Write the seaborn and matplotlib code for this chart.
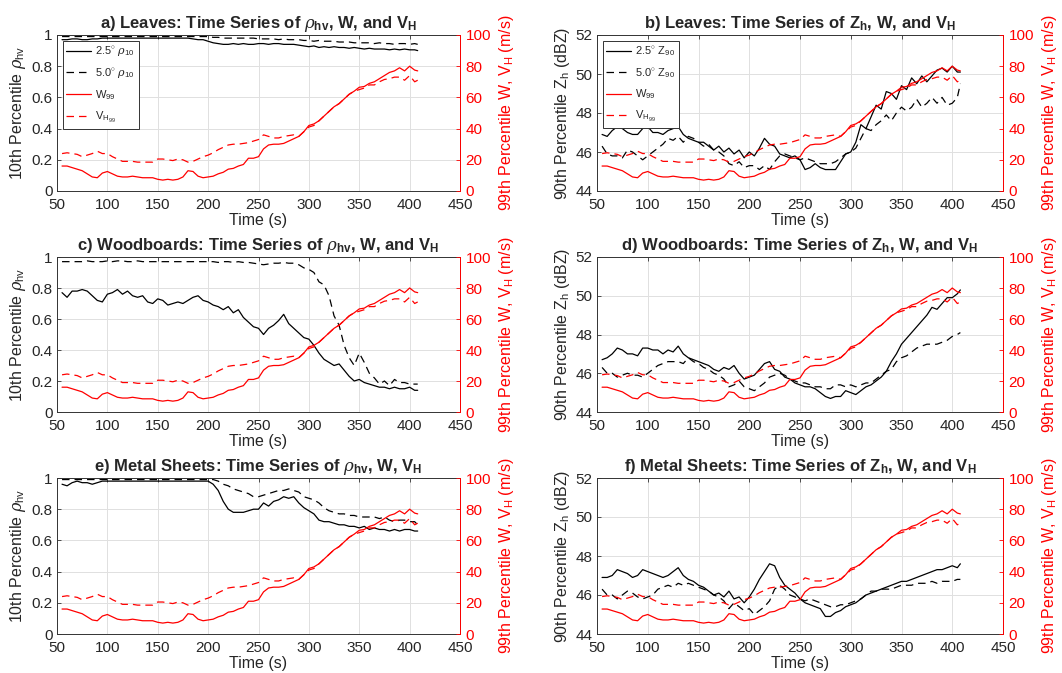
import numpy as np
import pandas as pd
import matplotlib
matplotlib.use("Agg")
import matplotlib.pyplot as plt
import seaborn as sns
from matplotlib.lines import Line2D

# ---------------- data ----------------
time_s = list(range(55, 406, 5)) + [408]

w99 = [16, 16, 15, 14, 13, 11, 9, 8.5, 11.5, 12.5, 11, 9.5, 9, 9, 9.5, 9, 8.5, 8.5, 8.5, 7.5,
       7, 7.5, 7, 7.5, 9, 13, 12.5, 9.5, 8.5, 9, 9.5, 11, 12, 14, 14.5, 16, 17, 21, 21, 22,
       27, 29.5, 30, 30, 30.5, 32, 33.5, 35, 38, 42, 43, 45, 48, 51, 54, 56, 59, 62, 64, 66.5,
       67, 69, 70, 72, 74, 76, 77, 79, 77, 80, 77.5, 77]
vh99 = [24, 24.5, 24, 23.5, 22, 23, 24, 25.5, 24, 24, 22, 20.5, 19, 19, 19, 18.5, 18.5, 18.5, 18.5, 20.5,
        20.5, 20, 19.5, 20.5, 20, 18.5, 19, 20.5, 22, 23, 24.5, 26.5, 28, 29.5, 30, 30, 30.5, 31, 32, 33,
        36, 35, 34, 34, 35, 35.5, 36, 35, 38, 41, 42, 45, 48, 51, 54, 56, 59, 62, 64, 65,
        66, 68, 68, 70, 71.5, 72, 73, 73, 71, 74, 70, 71]

leaves_rho_25 = [0.97, 0.97, 0.975, 0.975, 0.97, 0.97, 0.975, 0.975, 0.98, 0.98, 0.98, 0.98, 0.98, 0.98, 0.98, 0.98, 0.98, 0.98, 0.98, 0.98,
                 0.98, 0.98, 0.98, 0.98, 0.98, 0.98, 0.975, 0.97, 0.97, 0.96, 0.95, 0.945, 0.94, 0.94, 0.945, 0.94, 0.945, 0.94, 0.94, 0.945,
                 0.945, 0.94, 0.945, 0.945, 0.94, 0.94, 0.94, 0.935, 0.93, 0.925, 0.93, 0.92, 0.925, 0.92, 0.925, 0.92, 0.92, 0.915, 0.92, 0.915,
                 0.91, 0.915, 0.91, 0.91, 0.91, 0.905, 0.91, 0.905, 0.91, 0.905, 0.905, 0.90]
leaves_rho_50 = [0.99, 0.99, 0.99, 0.99, 0.99, 0.99, 0.99, 0.99, 0.99, 0.99, 0.99, 0.99, 0.99, 0.99, 0.99, 0.99, 0.99, 0.99, 0.99, 0.99,
                 0.99, 0.99, 0.99, 0.99, 0.99, 0.99, 0.99, 0.99, 0.99, 0.99, 0.985, 0.985, 0.98, 0.98, 0.98, 0.98, 0.98, 0.98, 0.98, 0.975,
                 0.975, 0.975, 0.975, 0.97, 0.975, 0.97, 0.97, 0.97, 0.965, 0.965, 0.96, 0.965, 0.96, 0.96, 0.96, 0.955, 0.955, 0.955, 0.95, 0.95,
                 0.95, 0.95, 0.945, 0.95, 0.945, 0.945, 0.94, 0.945, 0.945, 0.94, 0.945, 0.94]

wood_rho_25 = [0.77, 0.74, 0.78, 0.78, 0.79, 0.78, 0.75, 0.72, 0.71, 0.76, 0.77, 0.79, 0.76, 0.78, 0.75, 0.74, 0.75, 0.71, 0.70, 0.73,
               0.72, 0.69, 0.70, 0.71, 0.70, 0.72, 0.74, 0.75, 0.72, 0.71, 0.69, 0.68, 0.66, 0.68, 0.64, 0.66, 0.61, 0.58, 0.55, 0.54,
               0.50, 0.54, 0.56, 0.59, 0.63, 0.57, 0.54, 0.51, 0.48, 0.47, 0.43, 0.38, 0.34, 0.32, 0.30, 0.31, 0.27, 0.23, 0.20, 0.21,
               0.19, 0.18, 0.17, 0.16, 0.16, 0.15, 0.16, 0.15, 0.15, 0.16, 0.14, 0.14]
wood_rho_50 = [0.97, 0.97, 0.97, 0.97, 0.97, 0.975, 0.97, 0.97, 0.97, 0.975, 0.97, 0.975, 0.975, 0.97, 0.97, 0.975, 0.97, 0.97, 0.97, 0.97,
               0.97, 0.97, 0.97, 0.97, 0.97, 0.97, 0.97, 0.97, 0.97, 0.97, 0.97, 0.965, 0.97, 0.97, 0.965, 0.97, 0.965, 0.965, 0.96, 0.955,
               0.95, 0.955, 0.96, 0.96, 0.965, 0.96, 0.96, 0.95, 0.93, 0.92, 0.90, 0.84, 0.82, 0.75, 0.62, 0.56, 0.43, 0.35, 0.30, 0.38,
               0.32, 0.25, 0.22, 0.18, 0.20, 0.17, 0.21, 0.19, 0.19, 0.18, 0.18, 0.18]

metal_rho_25 = [0.96, 0.95, 0.97, 0.98, 0.97, 0.97, 0.96, 0.97, 0.98, 0.98, 0.98, 0.98, 0.98, 0.98, 0.98, 0.98, 0.98, 0.98, 0.98, 0.98,
                0.98, 0.98, 0.98, 0.98, 0.98, 0.98, 0.98, 0.98, 0.98, 0.98, 0.96, 0.92, 0.85, 0.80, 0.78, 0.78, 0.78, 0.79, 0.80, 0.80,
                0.84, 0.82, 0.85, 0.86, 0.88, 0.87, 0.88, 0.84, 0.81, 0.79, 0.77, 0.73, 0.72, 0.72, 0.71, 0.70, 0.70, 0.69, 0.69, 0.68,
                0.69, 0.67, 0.68, 0.67, 0.67, 0.66, 0.67, 0.66, 0.67, 0.67, 0.66, 0.66]
metal_rho_50 = [0.99, 0.99, 0.99, 0.99, 0.99, 0.99, 0.99, 0.99, 0.99, 0.99, 0.99, 0.99, 0.99, 0.99, 0.99, 0.99, 0.99, 0.99, 0.99, 0.99,
                0.99, 0.99, 0.99, 0.99, 0.99, 0.99, 0.99, 0.99, 0.99, 0.99, 0.99, 0.98, 0.96, 0.95, 0.93, 0.92, 0.91, 0.90, 0.88, 0.88,
                0.89, 0.90, 0.91, 0.92, 0.92, 0.93, 0.92, 0.91, 0.88, 0.87, 0.86, 0.84, 0.81, 0.79, 0.78, 0.77, 0.77, 0.76, 0.76, 0.75,
                0.75, 0.75, 0.75, 0.74, 0.75, 0.73, 0.72, 0.73, 0.73, 0.72, 0.72, 0.70]

leaves_z_25 = [46.9, 46.8, 47.1, 47.3, 47.2, 47.0, 46.9, 46.9, 47.2, 47.3, 47.0, 47.0, 46.9, 47.1, 47.2, 47.3, 46.9, 46.7, 46.6, 46.5,
               46.5, 46.3, 46.1, 46.3, 46.0, 46.2, 45.9, 46.1, 45.7, 46.0, 45.8, 46.2, 46.7, 46.4, 46.3, 45.9, 45.8, 45.7, 45.8, 45.6,
               45.1, 45.2, 45.4, 45.2, 45.1, 45.1, 45.1, 45.5, 45.9, 46.0, 46.5, 47.4, 47.2, 47.8, 48.4, 48.2, 49.1, 49.0, 48.7, 49.4,
               49.2, 49.8, 49.5, 49.9, 49.6, 49.9, 50.2, 50.3, 50.1, 50.4, 50.1, 50.1]
leaves_z_50 = [46.3, 45.9, 45.8, 45.8, 45.7, 46.1, 46.0, 45.8, 45.6, 45.8, 46.0, 46.2, 46.4, 46.7, 46.6, 46.8, 46.5, 46.8, 46.7, 46.5,
               46.3, 46.4, 46.1, 46.0, 45.8, 45.4, 45.3, 45.5, 45.2, 45.3, 45.3, 45.1, 45.3, 45.1, 45.5, 45.8, 45.9, 45.8, 45.7, 45.6,
               45.7, 45.6, 45.5, 45.4, 45.4, 45.4, 45.5, 45.7, 45.9, 46.0, 46.2, 46.7, 47.2, 47.1, 47.4, 47.6, 47.9, 47.6, 48.0, 48.3,
               48.1, 48.3, 48.7, 48.3, 48.5, 48.8, 48.5, 48.8, 48.4, 48.5, 48.8, 49.5]

wood_z_25 = [46.7, 46.8, 47.0, 47.3, 47.2, 47.0, 47.0, 46.9, 47.3, 47.3, 47.2, 47.2, 47.0, 47.2, 47.1, 47.4, 47.0, 46.8, 46.7, 46.6,
             46.5, 46.4, 46.2, 46.1, 46.3, 46.2, 46.4, 46.0, 45.7, 45.8, 45.9, 46.2, 46.5, 46.6, 46.2, 46.1, 45.8, 45.7, 45.5, 45.4,
             45.3, 45.3, 45.2, 45.0, 44.8, 44.7, 44.8, 44.8, 45.1, 45.0, 44.9, 45.1, 45.3, 45.4, 45.6, 45.8, 46.1, 46.6, 47.0, 47.5,
             47.8, 48.1, 48.4, 48.7, 49.0, 49.4, 49.3, 49.6, 49.9, 49.9, 50.1, 50.3]
wood_z_50 = [46.3, 46.0, 46.0, 45.8, 45.9, 46.0, 45.9, 45.9, 45.8, 46.0, 46.2, 46.4, 46.5, 46.6, 46.6, 46.6, 46.5, 46.8, 46.6, 46.5,
             46.3, 46.2, 46.0, 45.9, 45.7, 45.3, 45.4, 45.6, 45.3, 45.2, 45.1, 45.3, 45.5, 45.8, 45.9, 46.0, 45.9, 45.7, 45.6, 45.5,
             45.5, 45.4, 45.3, 45.3, 45.2, 45.2, 45.4, 45.4, 45.3, 45.4, 45.3, 45.4, 45.5, 45.5, 45.7, 45.9, 46.1, 46.2, 46.6, 46.8,
             46.9, 47.1, 47.3, 47.4, 47.5, 47.5, 47.5, 47.6, 47.7, 47.9, 48.0, 48.1]

metal_z_25 = [46.9, 46.9, 47.0, 47.3, 47.2, 47.1, 46.9, 47.0, 47.3, 47.2, 47.1, 47.0, 46.9, 47.0, 47.2, 47.4, 47.0, 46.8, 46.7, 46.5,
              46.4, 46.2, 46.0, 46.1, 45.9, 46.2, 45.8, 45.9, 45.6, 45.9, 46.3, 46.8, 47.2, 47.6, 47.5, 46.9, 46.5, 46.3, 46.1, 45.8,
              45.6, 45.5, 45.4, 45.3, 44.9, 44.9, 45.1, 45.2, 45.4, 45.5, 45.6, 45.8, 46.0, 46.1, 46.2, 46.3, 46.4, 46.5, 46.6, 46.7,
              46.7, 46.8, 46.9, 47.0, 47.1, 47.2, 47.3, 47.3, 47.4, 47.5, 47.4, 47.6]
metal_z_50 = [46.3, 46.0, 46.0, 45.8, 46.0, 46.2, 46.1, 45.9, 45.8, 45.9, 46.0, 46.3, 46.4, 46.5, 46.4, 46.6, 46.5, 46.6, 46.5, 46.4,
              46.3, 46.2, 46.0, 45.9, 45.7, 45.3, 45.6, 45.4, 45.2, 45.3, 45.0, 45.2, 45.4, 45.7, 46.3, 46.5, 46.3, 46.0, 45.9, 45.8,
              45.7, 45.8, 45.7, 45.6, 45.5, 45.4, 45.4, 45.5, 45.5, 45.6, 45.7, 45.8, 46.0, 46.2, 46.2, 46.3, 46.3, 46.3, 46.4, 46.5,
              46.5, 46.5, 46.6, 46.6, 46.6, 46.7, 46.6, 46.7, 46.7, 46.7, 46.8, 46.8]

titles = [
    r"a) Leaves: Time Series of $\rho_{\mathbf{hv}}$, W, and V$_{\mathbf{H}}$",
    r"b) Leaves: Time Series of Z$_{\mathbf{h}}$, W, and V$_{\mathbf{H}}$",
    r"c) Woodboards: Time Series of $\rho_{\mathbf{hv}}$, W, and V$_{\mathbf{H}}$",
    r"d) Woodboards: Time Series of Z$_{\mathbf{h}}$, W, and V$_{\mathbf{H}}$",
    r"e) Metal Sheets: Time Series of $\rho_{\mathbf{hv}}$, W, V$_{\mathbf{H}}$",
    r"f) Metal Sheets: Time Series of Z$_{\mathbf{h}}$, W, and V$_{\mathbf{H}}$",
]
black_series = [
    (leaves_rho_25, leaves_rho_50), (leaves_z_25, leaves_z_50),
    (wood_rho_25, wood_rho_50), (wood_z_25, wood_z_50),
    (metal_rho_25, metal_rho_50), (metal_z_25, metal_z_50),
]

# ---------------- style ----------------
sns.set_theme(style="white")
plt.rcParams["font.family"] = ["Liberation Sans", "DejaVu Sans"]
plt.rcParams["mathtext.fontset"] = "custom"
plt.rcParams["mathtext.rm"] = "Liberation Sans"
plt.rcParams["mathtext.it"] = "DejaVu Serif:italic"
plt.rcParams["mathtext.bf"] = "Liberation Sans:bold"
plt.rcParams["xtick.direction"] = "in"
plt.rcParams["ytick.direction"] = "in"

fig = plt.figure(figsize=(10.62, 6.73), dpi=100)

col_left = [57 / 1062, 597 / 1062]
col_w = [403 / 1062, 406 / 1062]
row_bottom = [1 - 191 / 673, 1 - 412 / 673, 1 - 634 / 673]
row_h = [156 / 673, 155 / 673, 156 / 673]

RED = "#ff0000"
TICK_FS = 11
LBL_FS = 11.5
for i in range(6):
    r, c = divmod(i, 2)
    ax = fig.add_axes([col_left[c], row_bottom[r], col_w[c], row_h[r]])
    s25, s50 = black_series[i]
    rho = (c == 0)
    df = pd.DataFrame({"t": time_s, "s25": s25, "s50": s50, "w": w99, "vh": vh99})

    sns.lineplot(data=df, x="t", y="s25", ax=ax, color="black", lw=0.9)
    sns.lineplot(data=df, x="t", y="s50", ax=ax, color="black", lw=0.9, linestyle=(0, (6, 4)))
    ax.set_xlim(50, 450)
    ax.set_xticks(range(50, 451, 50))
    if rho:
        ax.set_ylim(0, 1)
        ax.set_yticks([0, 0.2, 0.4, 0.6, 0.8, 1.0])
        ax.set_yticklabels(["0", "0.2", "0.4", "0.6", "0.8", "1"])
        ax.set_ylabel(r"10th Percentile $\rho_{\mathrm{hv}}$", fontsize=LBL_FS, labelpad=3)
    else:
        ax.set_ylim(44, 52)
        ax.set_yticks([44, 46, 48, 50, 52])
        ax.set_ylabel(r"90th Percentile Z$_{\mathrm{h}}$ (dBZ)", fontsize=LBL_FS, labelpad=3)
    ax.set_xlabel("Time (s)", fontsize=LBL_FS, labelpad=1)
    ax.grid(True, color="#e0e0e0", lw=0.7)
    ax.set_axisbelow(True)
    ax.tick_params(axis="both", labelsize=TICK_FS, length=3, width=0.6, color="#333333", pad=3, top=True)
    ax.tick_params(axis="x", pad=5)
    for sp in ax.spines.values():
        sp.set_color("#333333")
        sp.set_linewidth(0.7)
    ax.set_title(titles[i], fontsize=12, fontweight="bold", pad=5)

    ax2 = ax.twinx()
    sns.lineplot(data=df, x="t", y="w", ax=ax2, color=RED, lw=0.9)
    sns.lineplot(data=df, x="t", y="vh", ax=ax2, color=RED, lw=0.9, linestyle=(0, (6, 4)))
    ax2.set_ylim(0, 100)
    ax2.set_yticks([0, 20, 40, 60, 80, 100])
    ax2.set_ylabel(r"99th Percentile W, V$_{\mathrm{H}}$ (m/s)", color=RED, fontsize=LBL_FS, labelpad=4)
    ax2.tick_params(axis="y", colors=RED, labelsize=TICK_FS, length=3, width=0.6, pad=4)
    ax2.spines["right"].set_color(RED)
    ax2.spines["right"].set_linewidth(0.7)
    for k in ["left", "top", "bottom"]:
        ax2.spines[k].set_visible(False)
    ax2.grid(False)
    ax2.set_xlabel("Time (s)", fontsize=LBL_FS, labelpad=1)

    if r == 0:
        var_lbl = r"$\rho_{10}$" if rho else r"Z$_{90}$"
        handles = [
            Line2D([], [], color="black", lw=0.9),
            Line2D([], [], color="black", lw=0.9, linestyle=(0, (6, 4))),
            Line2D([], [], color=RED, lw=0.9),
            Line2D([], [], color=RED, lw=0.9, linestyle=(0, (6, 4))),
        ]
        labels = [r"2.5$^{\circ}$ " + var_lbl, r"5.0$^{\circ}$ " + var_lbl,
                  r"W$_{99}$", r"V$_{\mathrm{H}_{99}}$"]
        leg = ax2.legend(handles, labels, loc="upper left", fontsize=8, frameon=True,
                         fancybox=False, edgecolor="#333333", framealpha=1,
                         borderaxespad=0.5, handlelength=2.2, handletextpad=0.4,
                         labelspacing=0.7, borderpad=0.35)
        leg.get_frame().set_linewidth(0.7)

fig.savefig("out.png", dpi=100)
